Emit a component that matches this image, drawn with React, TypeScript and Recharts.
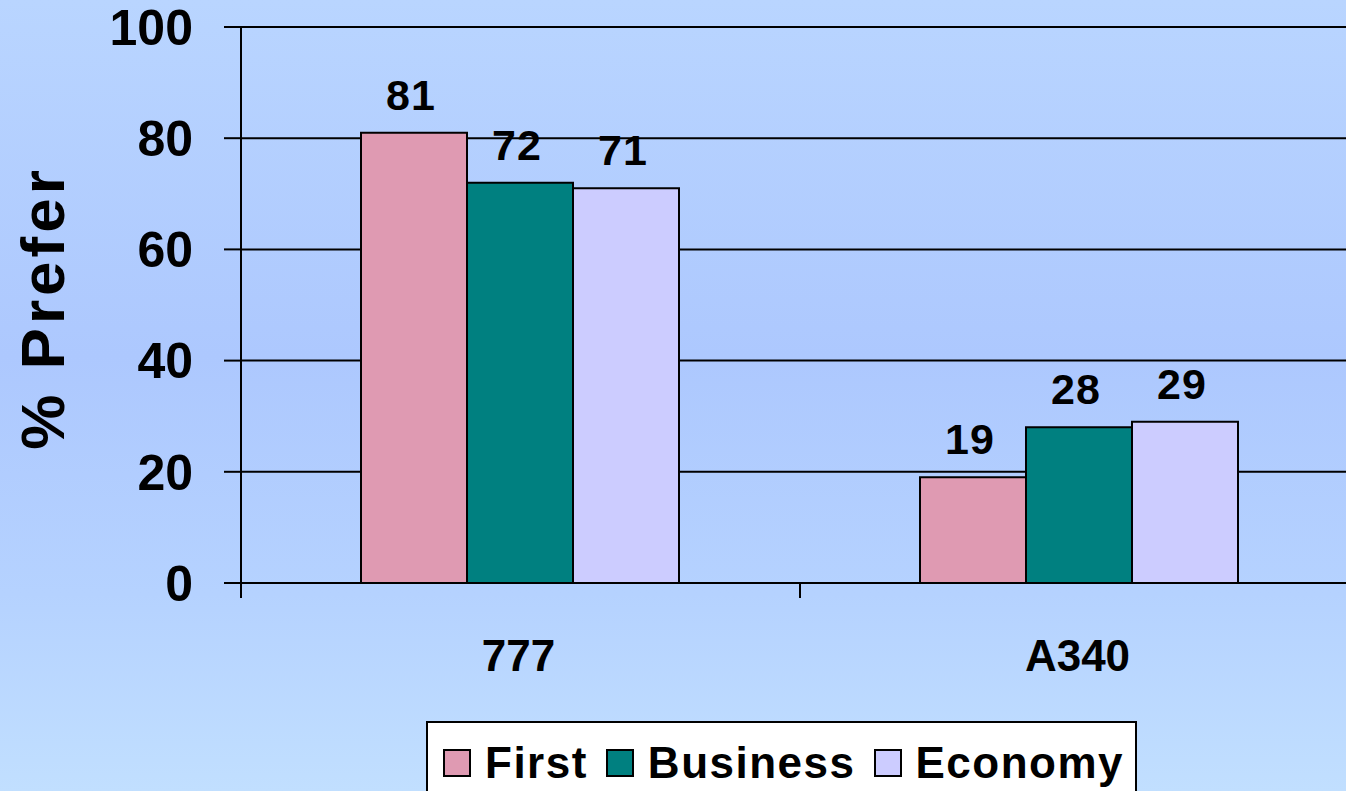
import React from 'react';
import {
  BarChart,
  Bar,
  XAxis,
  YAxis,
  CartesianGrid,
  Legend,
  LabelList,
} from 'recharts';

const aircraft = ['777', 'A340'];
const firstClass = [81, 19];
const businessClass = [72, 28];
const economyClass = [71, 29];
const yTicks = [0, 20, 40, 60, 80, 100];

const colors = {
  first: '#df9ab2',
  business: '#008080',
  economy: '#ccccff',
};

const seriesList = [
  { key: 'first', name: 'First', color: colors.first },
  { key: 'business', name: 'Business', color: colors.business },
  { key: 'economy', name: 'Economy', color: colors.economy },
];

const data = aircraft.map((name, i) => ({
  name,
  first: firstClass[i],
  business: businessClass[i],
  economy: economyClass[i],
}));

const font = "'Liberation Sans', Arial, Helvetica, sans-serif";

function CategoryTick(props: any) {
  const { x, y, payload } = props;
  const half = payload && typeof payload.offset === 'number' ? payload.offset : 0;
  return (
    <g>
      <line x1={x - half} y1={y} x2={x - half} y2={y + 15} stroke="#000" strokeWidth={2} />
      <text
        x={x - 2}
        y={y + 88}
        textAnchor="middle"
        fontFamily={font}
        fontWeight="bold"
        fontSize={44}
        fill="#000"
      >
        {payload.value}
      </text>
    </g>
  );
}

function ValueLabel(props: any) {
  const { x, y, width, value } = props;
  return (
    <text
      x={x + width / 2 - 3}
      y={y - 23}
      textAnchor="middle"
      fontFamily={font}
      fontWeight="bold"
      fontSize={43}
      letterSpacing={1}
      fill="#000"
    >
      {value}
    </text>
  );
}

function LegendBox() {
  return (
    <div
      style={{
        width: 711,
        height: 80,
        background: '#fff',
        border: '2px solid #000',
        boxSizing: 'border-box',
        display: 'flex',
        alignItems: 'flex-start',
        paddingLeft: 15,
        paddingTop: 20,
        fontFamily: font,
        fontWeight: 'bold',
        fontSize: 44,
        lineHeight: '40px',
        letterSpacing: 1.5,
        color: '#000',
      }}
    >
      {seriesList.map((s) => (
        <div key={s.key} style={{ display: 'flex', alignItems: 'center', marginRight: 18 }}>
          <span
            style={{
              display: 'inline-block',
              width: 28,
              height: 28,
              background: s.color,
              border: '2px solid #000',
              boxSizing: 'border-box',
              marginRight: 14,
            }}
          />
          <span>{s.name}</span>
        </div>
      ))}
    </div>
  );
}

export default function App() {
  return (
    <div
      style={{
        position: 'absolute',
        left: 0,
        top: 0,
        width: 1346,
        height: 791,
        overflow: 'hidden',
        background: 'linear-gradient(to bottom, #b9d5ff 0%, #adc8fe 45%, #b5d2ff 75%, #c1dfff 100%)',
      }}
    >
      <BarChart
        width={1370}
        height={800}
        data={data}
        margin={{ top: 27, right: 11, bottom: 117, left: 0 }}
        barGap={0}
        barCategoryGap={120}
      >
        <CartesianGrid vertical={false} stroke="#000" strokeWidth={2} fill="none" />
        <XAxis
          dataKey="name"
          height={100}
          axisLine={{ stroke: '#000', strokeWidth: 2 }}
          tickLine={false}
          tickSize={0}
          tickMargin={0}
          tick={<CategoryTick />}
          interval={0}
        />
        <YAxis
          width={241}
          domain={[0, 100]}
          ticks={yTicks}
          interval={0}
          axisLine={{ stroke: '#000', strokeWidth: 2 }}
          tickLine={{ stroke: '#000', strokeWidth: 2 }}
          tickSize={17}
          tickMargin={31}
          tick={{ fill: '#000', fontSize: 50, fontWeight: 'bold', fontFamily: font }}
          label={{
            content: () => (
              <text
                x={0}
                y={0}
                transform="translate(64 308) rotate(-90)"
                textAnchor="middle"
                fontFamily={font}
                fontWeight="bold"
                fontSize={62}
                letterSpacing={4}
                fill="#000"
              >
                % Prefer
              </text>
            ),
          }}
        />
        <Legend
          layout="horizontal"
          verticalAlign="middle"
          align="center"
          content={() => <LegendBox />}
          wrapperStyle={{ left: 426, top: 721, width: 711, height: 80 }}
        />
        {seriesList.map((s) => (
          <Bar
            key={s.key}
            dataKey={s.key}
            name={s.name}
            fill={s.color}
            stroke="#000"
            strokeWidth={2}
            isAnimationActive={false}
          >
            <LabelList dataKey={s.key} content={<ValueLabel />} />
          </Bar>
        ))}
      </BarChart>
    </div>
  );
}
